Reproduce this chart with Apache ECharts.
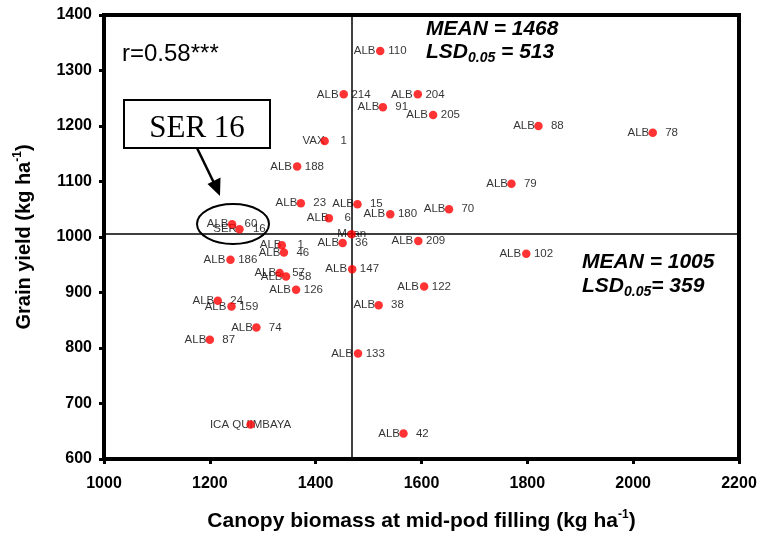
<!DOCTYPE html>
<html>
<head>
<meta charset="utf-8">
<script src="https://cdn.jsdelivr.net/npm/echarts@6/dist/echarts.min.js"></script>
<style>html,body{margin:0;padding:0;background:#fff}#c{width:760px;height:540px}</style>
</head>
<body>
<div id="c"></div>
<script>
// Genotype labels
const genotypes = ['ALB 110','ALB 214','ALB 204','ALB 91','ALB 205','ALB 88','ALB 78','ALB 79','VAX 1','ALB 188',
  'ALB 23','ALB 15','ALB 6','ALB 180','ALB 70','ALB 60','SER 16','Mean','ALB 36','ALB 209',
  'ALB 1','ALB 46','ALB 186','ALB 147','ALB 102','ALB 57','ALB 58','ALB 126','ALB 122','ALB 24',
  'ALB 159','ALB 38','ALB 74','ALB 87','ALB 133','ICA QUIMBAYA','ALB 42'];
// Canopy biomass at mid-pod filling (kg/ha)
const biomass = [1522,1453,1593,1527,1622,1821,2037,1770,1417,1365,
  1372,1479,1425,1541,1652,1242,1256,1468,1451,1594,
  1336,1340,1239,1469,1798,1332,1344,1363,1605,1215,
  1241,1519,1288,1200,1480,1277,1566];
// Grain yield (kg/ha)
const grainYield = [1335,1257,1257,1234,1220,1200,1188,1096,1173,1127,
  1061,1059,1034,1041,1050,1023,1014,1005,989,993,
  985,972,959,942,970,935,929,905,911,885,
  875,877,837,815,790,662,646];
const meanBiomass = 1468;
const meanYield = 1005;
const xTicks = [1000, 2200, 200];
const yTicks = [600, 1400, 100];

const pts = genotypes.map((g, i) => [biomass[i], grainYield[i], g]);

function fmtLabel(name) {
  const m = name.match(/^([A-Z]+) (\d+)$/);
  if (!m) return name;
  const n = m[2].length;
  const sp = n >= 3 ? '    ' : '     ';
  return m[1] + sp + m[2];
}

const chart = echarts.init(document.getElementById('c'));
const F = 'Liberation Sans, Arial, sans-serif';
chart.setOption({
  animation: false,
  backgroundColor: '#fff',
  grid: { left: 104, right: 21, top: 15, bottom: 81, show: true, borderColor: '#000', borderWidth: 4 },
  xAxis: {
    type: 'value', min: xTicks[0], max: xTicks[1], interval: xTicks[2],
    splitLine: { show: false },
    axisLine: { show: true, onZero: false, lineStyle: { color: '#000', width: 4 } },
    axisTick: { show: true, length: 5, lineStyle: { color: '#000', width: 3 } },
    axisLabel: { fontFamily: F, fontWeight: 'bold', fontSize: 16, color: '#000', margin: 17, formatter: v => String(v) },
    name: '{t|Canopy biomass at mid-pod filling (kg ha}{s|-1}{t|)}',
    nameLocation: 'middle', nameGap: 50,
    nameTextStyle: { rich: {
      t: { fontFamily: F, fontWeight: 'bold', fontSize: 21, color: '#000', lineHeight: 24 },
      s: { fontFamily: F, fontWeight: 'bold', fontSize: 12, color: '#000', verticalAlign: 'top', lineHeight: 24 }
    } }
  },
  yAxis: {
    type: 'value', min: yTicks[0], max: yTicks[1], interval: yTicks[2],
    splitLine: { show: false },
    axisLine: { show: true, onZero: false, lineStyle: { color: '#000', width: 4 } },
    axisTick: { show: true, length: 5, lineStyle: { color: '#000', width: 3 } },
    axisLabel: { fontFamily: F, fontWeight: 'bold', fontSize: 16, color: '#000', margin: 12, formatter: v => String(v) },
    name: '{t|Grain yield (kg ha}{s|-1}{t|)}',
    nameLocation: 'middle', nameGap: 68,
    nameTextStyle: { rich: {
      t: { fontFamily: F, fontWeight: 'bold', fontSize: 20, color: '#000', lineHeight: 24 },
      s: { fontFamily: F, fontWeight: 'bold', fontSize: 12, color: '#000', verticalAlign: 'top', lineHeight: 24 }
    } }
  },
  series: [
    {
      type: 'scatter', z: 2, data: pts, symbolSize: 8,
      itemStyle: { color: 'rgba(0,0,0,0)' },
      label: { show: true, position: 'inside', formatter: p => fmtLabel(p.data[2]),
        fontFamily: F, fontSize: 11.5, color: '#000' },
      markLine: {
        silent: true, symbol: 'none', label: { show: false },
        lineStyle: { color: '#000', width: 1.5, type: 'solid' },
        data: [ { xAxis: meanBiomass }, { yAxis: meanYield } ]
      }
    },
    {
      type: 'scatter', z: 5, data: pts, symbolSize: 8.5,
      itemStyle: { color: '#ff0000' }, label: { show: false }
    }
  ],
  graphic: [
    { type: 'text', x: 122, y: 54, style: { text: 'r=0.58***', font: '24px Liberation Sans', fill: '#000', verticalAlign: 'middle' } },
    { type: 'text', x: 426, y: 29, style: { text: 'MEAN = 1468', font: 'italic bold 21px Liberation Sans', fill: '#000', verticalAlign: 'middle' } },
    { type: 'text', x: 426, y: 52, style: { text: '{b|LSD}{s|0.05}{b| = 513}', verticalAlign: 'middle',
      rich: { b: { font: 'italic bold 21px Liberation Sans', fill: '#000', lineHeight: 26, verticalAlign: 'middle' },
              s: { font: 'italic bold 14px Liberation Sans', fill: '#000', lineHeight: 26, verticalAlign: 'bottom' } } } },
    { type: 'text', x: 582, y: 262, style: { text: 'MEAN = 1005', font: 'italic bold 21px Liberation Sans', fill: '#000', verticalAlign: 'middle' } },
    { type: 'text', x: 582, y: 286, style: { text: '{b|LSD}{s|0.05}{b|= 359}', verticalAlign: 'middle',
      rich: { b: { font: 'italic bold 21px Liberation Sans', fill: '#000', lineHeight: 26, verticalAlign: 'middle' },
              s: { font: 'italic bold 14px Liberation Sans', fill: '#000', lineHeight: 26, verticalAlign: 'bottom' } } } },
    { type: 'rect', shape: { x: 124, y: 100, width: 146, height: 48 }, style: { fill: '#fff', stroke: '#000', lineWidth: 2 }, z: 10 },
    { type: 'text', x: 197, y: 129, z: 11, style: { text: 'SER 16', font: '31px Liberation Serif', fill: '#000', align: 'center', verticalAlign: 'middle' } },
    { type: 'ellipse', shape: { cx: 233, cy: 224, rx: 36, ry: 20 }, style: { fill: 'none', stroke: '#000', lineWidth: 2 }, z: 10 },
    { type: 'line', shape: { x1: 197, y1: 148, x2: 214, y2: 183 }, style: { stroke: '#000', lineWidth: 2.5 }, z: 10 },
    { type: 'polygon', shape: { points: [[220, 196], [207.5, 184], [220.5, 177.5]] }, style: { fill: '#000' }, z: 10 }
  ]
});
</script>
</body>
</html>
